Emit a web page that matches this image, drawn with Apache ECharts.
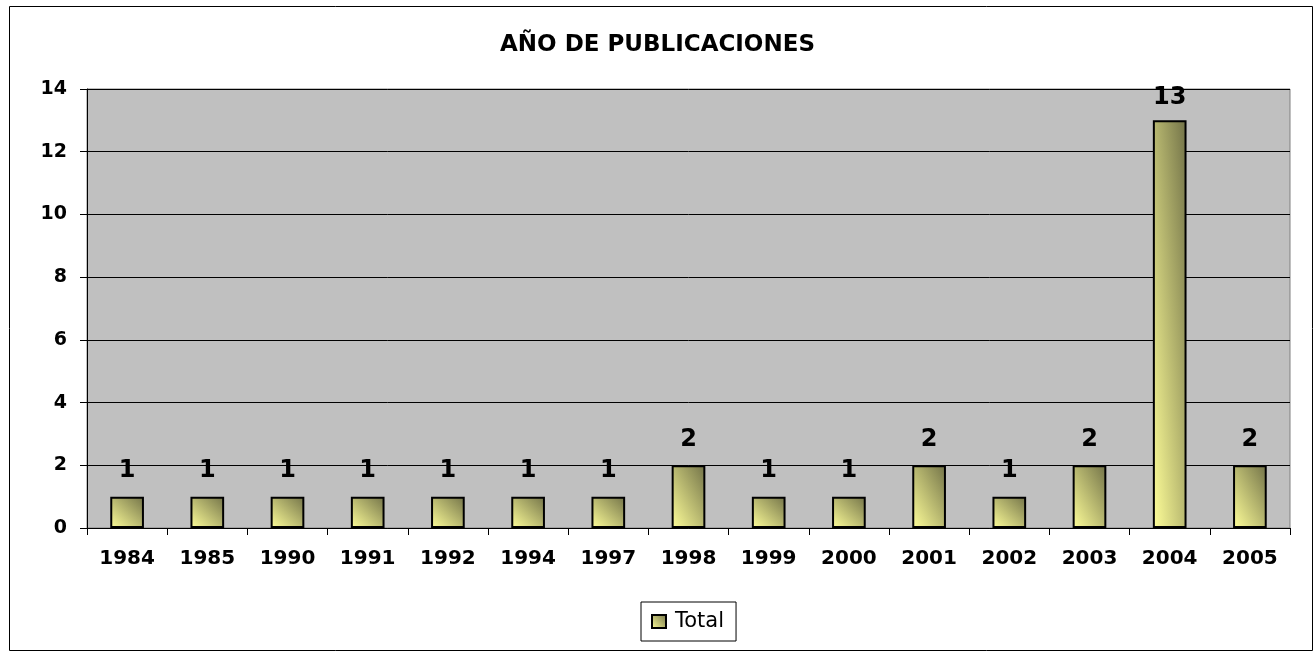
<!DOCTYPE html>
<html>
<head>
<meta charset="utf-8">
<script src="https://cdn.jsdelivr.net/npm/echarts@6/dist/echarts.min.js"></script>
<style>
  html, body { margin: 0; padding: 0; background: #fff; }
  #chart { width: 1315px; height: 654px; }
</style>
</head>
<body>
<div id="chart"></div>
<script>
// años y totales de publicaciones
const years = ["1984", "1985", "1990", "1991", "1992", "1994", "1997", "1998", "1999", "2000", "2001", "2002", "2003", "2004", "2005"];
const totals = [1, 1, 1, 1, 1, 1, 1, 2, 1, 1, 2, 1, 2, 13, 2];
const seriesName = "Total";
const chartTitle = "AÑO DE PUBLICACIONES";

const font = "'DejaVu Sans', sans-serif";
const lightColor = "#FFFF99";
const darkColor = "#727248";
const barRatio = 0.42;
const gridTop = 89;
const labelSize = 24;
const labelDistance = 14;

const chart = echarts.init(document.getElementById("chart"));

const options = {
    backgroundColor: "#fff",
    animation: false,
    graphic: [
        {
            type: "rect",
            shape: { x: 9.5, y: 6.5, width: 1303, height: 644 },
            style: { fill: "none", stroke: "#000", lineWidth: 1 },
            z: -1,
        },
    ],
    title: {
        text: chartTitle,
        left: "center",
        top: 29,
        textStyle: {
            fontFamily: font,
            fontSize: 23,
            fontWeight: "bold",
            color: "#000",
        },
    },
    legend: {
        data: [seriesName],
        left: 641,
        top: 602,
        orient: "horizontal",
        itemWidth: 14,
        itemHeight: 13,
        padding: [9, 12, 9, 10],
        borderColor: "#000",
        borderWidth: 1,
        icon: "rect",
        textStyle: {
            fontFamily: font,
            fontSize: 21,
            color: "#000",
            padding: [0, 0, 0, 4],
        },
    },
    grid: {
        left: 87,
        top: gridTop,
        right: 25,
        bottom: 126,
        show: true,
        backgroundColor: "#C0C0C0",
        borderColor: "#808080",
        borderWidth: 1,
        containLabel: false,
    },
    xAxis: {
        type: "category",
        data: years,
        boundaryGap: true,
        axisLine: { show: true, lineStyle: { color: "#000", width: 1 } },
        axisTick: {
            show: true,
            inside: false,
            length: 7,
            alignWithLabel: false,
            lineStyle: { color: "#000" },
        },
        axisLabel: {
            margin: 21,
            fontFamily: font,
            fontSize: 20,
            fontWeight: "bold",
            color: "#000",
            interval: 0,
        },
        splitLine: { show: false },
    },
    yAxis: {
        type: "value",
        min: 0,
        max: 14,
        interval: 2,
        axisLine: { show: true, lineStyle: { color: "#000", width: 1 } },
        axisTick: {
            show: true,
            inside: false,
            length: 7,
            lineStyle: { color: "#000" },
        },
        axisLabel: {
            margin: 20,
            fontFamily: font,
            fontSize: 19,
            fontWeight: "bold",
            color: "#000",
        },
        splitLine: {
            show: true,
            lineStyle: { color: "#000", width: 1 },
        },
    },
    series: [
        {
            name: seriesName,
            type: "bar",
            data: totals,
            barWidth: barRatio * 100 + "%",
            itemStyle: {
                // used by the legend swatch
                color: new echarts.graphic.LinearGradient(0, 1, 1, 0, [
                    { offset: 0, color: lightColor },
                    { offset: 1, color: darkColor },
                ]),
                borderColor: "#000",
                borderWidth: 2,
            },
            label: {
                show: true,
                position: "top",
                distance: labelDistance,
                fontFamily: font,
                fontSize: labelSize,
                fontWeight: "bold",
                color: "#000",
            },
        },
    ],
};

chart.setOption(options);

// Excel-like diagonal fill: bottom-left light, top-right dark, along each bar's own diagonal
const band = chart.convertToPixel({ gridIndex: 0 }, [1, 0])[0] - chart.convertToPixel({ gridIndex: 0 }, [0, 0])[0];
const barData = totals.map((v, i) => {
    const top = chart.convertToPixel({ gridIndex: 0 }, [i, v]);
    const bottomY = chart.convertToPixel({ gridIndex: 0 }, [i, 0])[1];
    const w = band * barRatio;
    const h = bottomY - top[1];
    const x0 = top[0] - w / 2;
    const k = (2 * w * h) / (w * w + h * h);
    // keep the label inside the plot area, as Excel does
    const dist = Math.min(labelDistance, top[1] - gridTop - labelSize + 3);
    return {
        value: v,
        label: { distance: dist },
        itemStyle: {
            color: new echarts.graphic.LinearGradient(
                x0, bottomY, x0 + h * k, bottomY - w * k,
                [
                    { offset: 0, color: lightColor },
                    { offset: 1, color: darkColor },
                ],
                true
            ),
        },
    };
});
chart.setOption({ series: [{ data: barData }] });
</script>
</body>
</html>
